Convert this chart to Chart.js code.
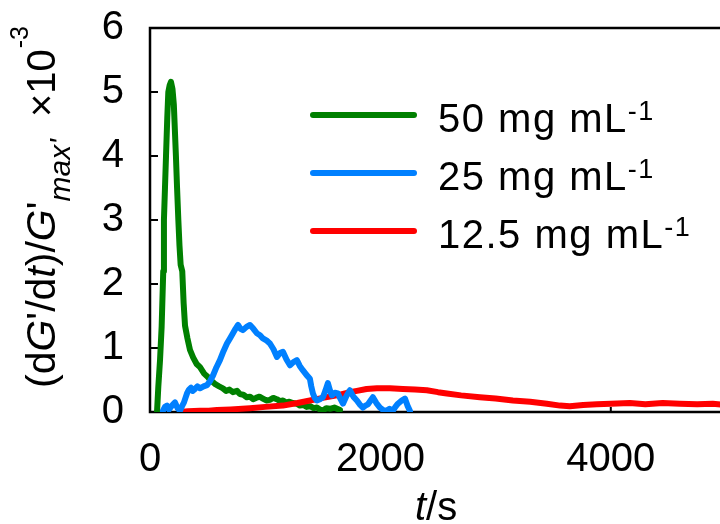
<!DOCTYPE html>
<html>
<head>
<meta charset="utf-8">
<script src="https://cdn.jsdelivr.net/npm/chart.js@4.4.1/dist/chart.umd.min.js"></script>
<style>
  html, body { margin: 0; padding: 0; background: #fff; overflow: hidden; }
  #cadre { width: 740px; height: 524px; }
</style>
</head>
<body>
<div id="cadre"><canvas id="graphique" width="740" height="524"></canvas></div>
<script>
/* ─── Données : vitesse de gélification normalisée (×10^-3) ─────── */
const CONCENTRATIONS = ['50', '25', '12.5'];
const COULEURS       = ['#008000', '#0080ff', '#ff0000'];

const X_TICKS = [0, 2000, 4000];
const Y_TICKS = [0, 1, 2, 3, 4, 5, 6];

// 50 mg mL-1
const T_50 = [61, 72, 87, 101, 115, 121, 130, 139, 150, 159, 170, 182, 195, 207, 216, 225, 235, 246,
              256, 266, 280, 292, 304, 325, 347, 375, 405, 434, 470, 500, 521, 545, 570, 600, 633, 660,
              690, 720, 755, 780, 810, 840, 868, 895, 920, 950, 980, 1010, 1040, 1070, 1100, 1130, 1154,
              1180, 1210, 1240, 1275, 1300, 1330, 1360, 1390, 1420, 1449, 1475, 1501, 1530, 1562, 1600, 1649];
const V_50 = [0.0, 0.39, 0.81, 1.33, 2.2, 3.0, 3.5, 4.0, 4.6, 5.0, 5.1, 5.16, 5.05, 4.8, 4.4, 4.0, 3.5, 3.0,
              2.6, 2.3, 2.2, 1.7, 1.35, 1.15, 0.97, 0.85, 0.75, 0.7, 0.6, 0.55, 0.5, 0.47, 0.43, 0.4, 0.37, 0.33,
              0.35, 0.31, 0.33, 0.28, 0.27, 0.23, 0.24, 0.2, 0.22, 0.24, 0.21, 0.18, 0.19, 0.22, 0.2, 0.17, 0.18,
              0.15, 0.16, 0.14, 0.13, 0.1, 0.11, 0.08, 0.09, 0.06, 0.07, 0.04, 0.02, 0.06, 0.05, 0.07, 0.03];

// 25 mg mL-1
const T_25 = [113, 130, 148, 165, 182, 200, 217, 240, 260, 278, 295, 308, 321, 338, 356, 372, 390, 412, 434,
              465, 495, 520, 547, 577, 607, 638, 668, 694, 720, 742, 764, 786, 807, 838, 868, 898, 928, 955,
              980, 1010, 1041, 1072, 1102, 1128, 1154, 1185, 1215, 1245, 1275, 1300, 1328, 1358, 1388, 1400,
              1414, 1430, 1449, 1475, 1501, 1522, 1544, 1560, 1579, 1605, 1631, 1655, 1675, 1705, 1735, 1765,
              1796, 1820, 1848, 1870, 1892, 1915, 1935, 1965, 1996, 2025, 2056, 2080, 2108, 2130, 2152, 2185,
              2213, 2235, 2256];
const V_25 = [0.02, 0.08, 0.1, 0.04, 0.08, 0.12, 0.15, 0.06, 0.02, 0.09, 0.15, 0.22, 0.29, 0.35, 0.38, 0.33,
              0.36, 0.4, 0.37, 0.4, 0.42, 0.48, 0.57, 0.7, 0.81, 0.95, 1.07, 1.15, 1.23, 1.3, 1.36, 1.3, 1.28,
              1.33, 1.36, 1.3, 1.23, 1.2, 1.15, 1.12, 1.07, 0.98, 0.86, 0.92, 0.94, 0.82, 0.73, 0.78, 0.81, 0.72,
              0.65, 0.58, 0.52, 0.4, 0.29, 0.22, 0.18, 0.2, 0.23, 0.33, 0.45, 0.35, 0.26, 0.3, 0.29, 0.2, 0.13,
              0.25, 0.34, 0.24, 0.18, 0.12, 0.07, 0.1, 0.12, 0.18, 0.23, 0.14, 0.07, 0.03, 0.02, 0.05, 0.02,
              0.08, 0.13, 0.18, 0.21, 0.1, 0.02];

// 12.5 mg mL-1
const T_12 = [260, 330, 434, 510, 581, 700, 868, 1000, 1154, 1280, 1388, 1500, 1622, 1710, 1796, 1880,
              1970, 2082, 2195, 2300, 2403, 2500, 2577, 2700, 2863, 3000, 3150, 3300, 3445, 3560, 3644,
              3760, 3879, 4000, 4165, 4300, 4450, 4599, 4750, 4885, 5000];
const V_12 = [0.0, 0.01, 0.02, 0.02, 0.03, 0.04, 0.06, 0.08, 0.1, 0.14, 0.18, 0.22, 0.26, 0.3, 0.33, 0.36,
              0.37, 0.37, 0.36, 0.35, 0.34, 0.31, 0.29, 0.26, 0.23, 0.21, 0.18, 0.16, 0.13, 0.1, 0.09,
              0.11, 0.12, 0.13, 0.14, 0.12, 0.14, 0.13, 0.12, 0.13, 0.11];

const SERIES = [[T_50, V_50], [T_25, V_25], [T_12, V_12]];

const POLICE = '"Liberation Sans", Arial, sans-serif';
const police = (taille, italique) => `${italique ? 'italic ' : ''}${taille}px ${POLICE}`;

/* ─── Texte composé (italique, indices, exposants) ──────────────── */
function ecrireMorceaux(ctx, morceaux) {
    let cx = 0;
    morceaux.forEach(m => {
        ctx.font = police(m.taille, m.italique);
        if (m.avant) cx += m.avant;
        ctx.fillText(m.texte, cx, m.dy || 0);
        cx += ctx.measureText(m.texte).width;
    });
}

const TITRE_Y = [
    { texte: '(d',  taille: 41 },
    { texte: 'G',   taille: 41, italique: true },
    { texte: "'/d", taille: 41 },
    { texte: 't',   taille: 41, italique: true },
    { texte: ')/',  taille: 41 },
    { texte: 'G',   taille: 41, italique: true },
    { texte: "'",   taille: 41 },
    { texte: "max'", taille: 30, italique: true, dy: 15 },
    { texte: '×10', taille: 40, avant: 22 },
    { texte: '-3',  taille: 25, dy: -27, avant: 1 },
];

const TITRE_X = [
    { texte: 't',  taille: 40, italique: true },
    { texte: '/s', taille: 40 },
];

/* ─── Cadre, graduations intérieures, titres et légende ─────────── */
const cadrePlugin = {
    id: 'cadre',
    beforeDatasetsDraw(chart) {
        const { ctx, chartArea: a, scales: { x, y } } = chart;
        ctx.save();
        ctx.strokeStyle = '#000';
        ctx.lineWidth = 2.5;
        ctx.strokeRect(a.left, a.top, a.right - a.left, a.bottom - a.top);
        ctx.lineWidth = 2;
        ctx.beginPath();
        Y_TICKS.forEach(v => {
            const py = y.getPixelForValue(v);
            ctx.moveTo(a.left, py);
            ctx.lineTo(a.left + 8, py);
        });
        X_TICKS.forEach(v => {
            const px = x.getPixelForValue(v);
            ctx.moveTo(px, a.bottom);
            ctx.lineTo(px, a.bottom - 5);
        });
        ctx.stroke();
        ctx.restore();
    },
    afterDraw(chart) {
        const { ctx } = chart;
        ctx.save();
        ctx.fillStyle = '#000';
        ctx.textBaseline = 'alphabetic';

        // titre vertical
        ctx.save();
        ctx.translate(55, 388);
        ctx.rotate(-Math.PI / 2);
        ecrireMorceaux(ctx, TITRE_Y);
        ctx.restore();

        // titre horizontal
        ctx.save();
        ctx.translate(415, 520);
        ecrireMorceaux(ctx, TITRE_X);
        ctx.restore();

        // légende
        CONCENTRATIONS.forEach((c, i) => {
            const ly = 115 + i * 58;
            ctx.strokeStyle = COULEURS[i];
            ctx.lineWidth = 6;
            ctx.lineCap = 'round';
            ctx.beginPath();
            ctx.moveTo(313, ly);
            ctx.lineTo(414, ly);
            ctx.stroke();

            ctx.save();
            ctx.translate(438, ly + 17);
            ctx.letterSpacing = '1.5px';
            ecrireMorceaux(ctx, [
                { texte: c + ' mg mL', taille: 40 },
                { texte: '-1', taille: 27, dy: -12 },
            ]);
            ctx.restore();
        });
        ctx.restore();
    },
};

/* ─── Graphique ─────────────────────────────────────────────────── */
const ordre = [2, 0, 1]; // bleu au-dessus, puis rouge, puis vert

new Chart(document.getElementById('graphique'), {
    type: 'line',
    data: {
        datasets: SERIES.map(([t, v], i) => ({
            label: CONCENTRATIONS[i] + ' mg mL-1',
            data: t.map((tt, k) => ({ x: tt, y: v[k] })),
            borderColor: COULEURS[i],
            borderWidth: 6,
            borderJoinStyle: 'round',
            borderCapStyle: 'round',
            pointRadius: 0,
            tension: 0,
            order: ordre[i],
        })),
    },
    options: {
        responsive: false,
        devicePixelRatio: 1,
        animation: false,
        events: [],
        layout: { padding: { top: 28, right: 14, left: 0, bottom: 0 } },
        plugins: { legend: { display: false }, tooltip: { enabled: false } },
        scales: {
            x: {
                type: 'linear',
                min: 0,
                max: 5000,
                afterBuildTicks: s => { s.ticks = X_TICKS.map(v => ({ value: v })); },
                afterFit: s => { s.height = 112; s.paddingLeft = 0; s.paddingRight = 0; },
                grid: { display: false },
                border: { display: false },
                ticks: {
                    color: '#000', font: { size: 40, family: POLICE }, padding: 16, maxRotation: 0,
                    callback: v => String(v),
                },
            },
            y: {
                min: 0,
                max: 6,
                afterBuildTicks: s => { s.ticks = Y_TICKS.map(v => ({ value: v })); },
                afterFit: s => { s.width = 150; s.paddingTop = 0; s.paddingBottom = 0; },
                grid: { display: false },
                border: { display: false },
                ticks: {
                    color: '#000', font: { size: 40, family: POLICE }, padding: 18,
                    callback: v => String(v),
                },
            },
        },
    },
    plugins: [cadrePlugin],
});
</script>
</body>
</html>
